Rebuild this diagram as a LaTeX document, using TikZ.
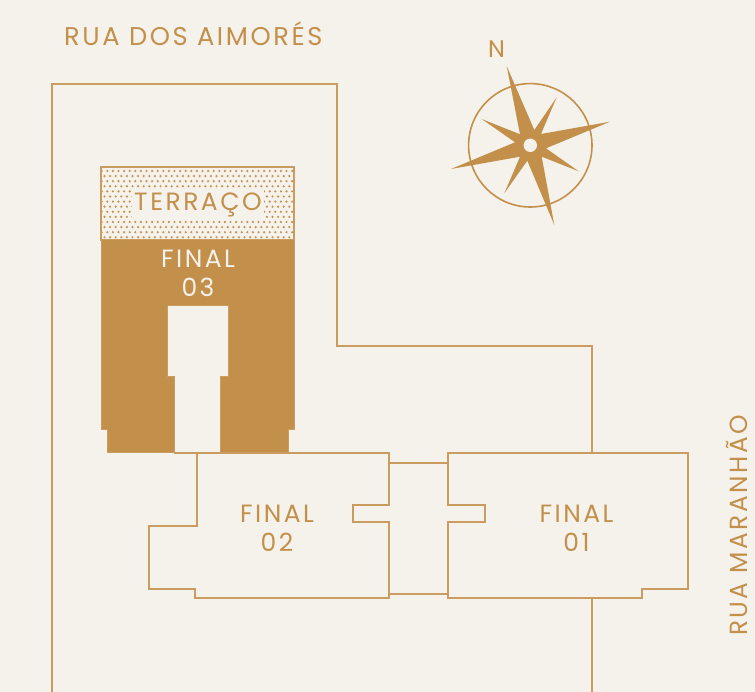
\documentclass[tikz,border=0pt]{standalone}
\usepackage{fontspec}
\setmainfont[LetterSpace=10]{Poppins}
\definecolor{paper}{HTML}{F5F2EB}
\definecolor{gold}{HTML}{C3904C}
\definecolor{wall}{HTML}{CB9C60}
\tikzset{
  wall line/.style={draw=wall,line width=2pt,line join=miter},
  street label/.style={text=gold,inner sep=0pt},
  flat label/.style={text=gold,align=center,font=\fontsize{25}{29}\selectfont,inner sep=0pt},
}
\begin{document}
\begin{tikzpicture}[x=1pt,y=-1pt]
 \useasboundingbox[fill=paper] (0,0) rectangle (755,692);
 % lot
 \draw[wall line] (52,692) -- (52,84) -- (337,84) -- (337,346) -- (592,346) -- (592,452.7);
 \draw[wall line] (592,597.7) -- (592,692);
 % terrace
 \begin{scope}
  \clip (101,167) rectangle (294,240);
  \foreach \r in {0,...,13}
   \foreach \c in {0,...,34}
    \fill[gold] ({101.7+\c*5.6+mod(\r,2)*2.8},{171+\r*5.1}) circle (1.2);
 \end{scope}
 \draw[wall line] (101,167) rectangle (294,240);
 % final 03
 \fill[gold,draw=wall,line width=1pt] (101,240) -- (294,240) -- (294,429) -- (288.7,429) -- (288.7,452.7)
   -- (220.7,452.7) -- (220.7,377) -- (228,377) -- (228,305.5) -- (167.3,305.5) -- (167.3,377) -- (174,377)
   -- (174,452.7) -- (107,452.7) -- (107,429) -- (101,429) -- cycle;
 % final 02 and 01
 \draw[wall line] (174,452.7) -- (389.3,452.7) -- (389.3,505.3) -- (352.7,505.3) -- (352.7,522) -- (389.3,522)
   -- (389.3,597.7) -- (195.3,597.7) -- (195.3,588.7) -- (149.3,588.7) -- (149.3,526) -- (197.3,526) -- (197.3,452.7);
 \draw[wall line] (448.3,452.7) -- (688.3,452.7) -- (688.3,588.7) -- (642.3,588.7) -- (642.3,597.7) -- (448.3,597.7)
   -- (448.3,522) -- (485.3,522) -- (485.3,505.3) -- (448.3,505.3) -- cycle;
 \draw[wall line] (389.3,463.3) -- (448.3,463.3);
 \draw[wall line] (389.3,594.3) -- (448.3,594.3);
 % compass
 \draw[gold,line width=1.6pt] (530.3,145.3) circle (61.7);
 \fill[gold] (506.7,66) -- (534.3,130) -- (556.7,97.3) -- (541,134) -- (610,121.7) -- (546,148.3) -- (578.7,171.3)
   -- (541.7,156.7) -- (554.3,225) -- (527.3,160.7) -- (504.3,193.3) -- (520,156.7) -- (451,169) -- (515,142.3)
   -- (481.7,119) -- (520,134.3) -- cycle;
 \fill[paper] (530.3,145.3) circle (6.7);
 % labels
 \node[street label,anchor=base west,font=\fontsize{25.7}{26}\selectfont] (aimores) at (64,46) {RUA DOS AIMORÉS};
 \node[street label,rotate=90,anchor=base west,font=\fontsize{24.8}{25}\selectfont] (maranhao) at (747,636) {RUA MARANHÃO};
 \node[street label,font=\fontsize{24}{24}\selectfont] (north) at (496.5,49) {N};
 \node[flat label,fill=paper,inner sep=2pt] (terraco) at (198,204.5) {TERRAÇO};
 \node[flat label,text=paper] (final03) at (198,273) {FINAL\\03};
 \node[flat label] (final02) at (277,528) {FINAL\\02};
 \node[flat label] (final01) at (576.5,528) {FINAL\\01};
\end{tikzpicture}
\end{document}
